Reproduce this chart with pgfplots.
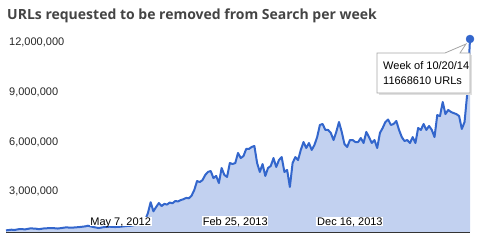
\documentclass[border=0pt]{standalone}
\usepackage{fontspec}
\setmainfont{Liberation Sans}
\newfontfamily\titlefont{Open Sans}
\usepackage{pgfplots}
\pgfplotsset{compat=1.18}
\usepackage{pgfplotstable}
\definecolor{gline}{HTML}{3366CC}
\definecolor{garea}{HTML}{C2D1F0}
\definecolor{gtitle}{HTML}{444444}
\pgfplotstableread{
w v
0 100000
2 140000
3 120000
5 180000
7 160000
9 220000
11 200000
12 170000
14 220000
17 240000
19 210000
22 280000
24 260000
27 300000
29 340000
30 380000
32 300000
34 240000
36 300000
38 320000
40 300000
42 320000
44 360000
46 380000
47 420000
48 500000
50 620000
51 730000
52 1150000
53 1800000
54 1250000
55 1510000
56 1750000
57 1570000
58 1700000
59 1660000
60 1780000
61 1740000
62 1870000
63 1850000
64 1930000
65 1980000
66 2060000
67 2040000
68 2200000
69 2550000
70 3080000
71 3020000
72 3140000
73 3450000
74 3630000
75 3690000
76 3260000
77 3390000
78 2960000
79 3870000
80 3450000
81 3330000
82 4170000
83 4110000
84 4170000
85 4780000
86 4470000
87 4590000
88 5020000
89 5020000
90 5140000
91 5200000
92 4170000
93 3630000
94 4110000
95 3390000
96 3870000
97 3990000
98 4470000
99 3930000
100 4350000
101 4530000
102 3630000
103 3750000
104 2720000
105 4170000
106 4530000
107 4350000
108 4960000
109 5440000
110 5080000
111 5380000
112 4960000
113 5260000
114 5740000
115 6470000
116 6530000
117 6170000
118 6170000
119 5990000
120 5560000
121 6050000
122 6650000
123 6050000
124 5320000
125 5140000
126 5560000
127 5560000
128 5440000
129 5440000
130 5680000
131 5380000
132 6050000
133 5740000
134 5380000
135 5560000
136 5080000
137 5990000
138 6290000
139 6650000
140 6800000
141 6470000
142 6530000
143 6710000
144 6170000
145 5740000
146 5500000
147 5560000
148 5380000
149 5740000
150 5380000
151 6290000
152 6170000
153 6530000
154 6170000
155 6410000
156 6170000
157 5740000
158 7070000
159 7010000
160 7860000
161 7130000
162 7380000
163 7260000
164 7190000
165 7130000
166 7010000
167 6230000
168 6650000
169 8400000
170 11668610
}\urldata
\begin{document}
\begin{tikzpicture}[x=1bp,y=1bp]
\useasboundingbox (0,0) rectangle (480,247);
\node[anchor=base west, inner sep=0, text=gtitle, font=\titlefont\bfseries\fontsize{14bp}{17bp}\selectfont] at (7,228) {URLs requested to be removed from Search per week};
\begin{axis}[
  at={(6bp,15bp)}, anchor=south west, scale only axis,
  width=464bp, height=201.8bp,
  xmin=0, xmax=170, ymin=0, ymax=12200000,
  clip=false, axis on top,
  axis x line*=bottom, axis y line*=left,
  y axis line style={draw=none},
  x axis line style={draw=black!80, line width=1bp, -},
  major tick length=0,
  xtick={42,84,126},
  xticklabels={{May 7, 2012},{Feb 25, 2013},{Dec 16, 2013}},
  xticklabel style={anchor=base, yshift=7bp, inner sep=0.7bp, text depth=0pt, fill=white, font=\fontsize{11bp}{13bp}\selectfont, text=black},
  ytick={3000000,6000000,9000000,12000000},
  scaled y ticks=false,
  yticklabel style={anchor=north west, xshift=3bp, yshift=-4.5bp, inner sep=0, font=\fontsize{11bp}{13bp}\selectfont, text=black!85},
  /pgf/number format/fixed,
  /pgf/number format/1000 sep={,},
  /pgf/number format/assume math mode=true,
]
\addplot[fill=garea, draw=none] table[x=w, y=v] {\urldata} \closedcycle;
\addplot[gline, line width=2bp, line join=round] table[x=w, y=v] {\urldata};
\addplot[only marks, mark=*, mark size=4bp, gline] coordinates {(170,11668610)};
\end{axis}
% tooltip
\fill[black!12] (379,152) rectangle (472,192);
\draw[black!35, fill=white, line width=0.8bp] (377,154) -- (470,154) -- (470,194) -- (460,194) -- (466,203) -- (445,194) -- (377,194) -- cycle;
\node[anchor=base west, inner sep=0, font=\fontsize{11bp}{13bp}\selectfont] at (383,177.7) {Week of 10/20/14};
\node[anchor=base west, inner sep=0, font=\fontsize{11bp}{13bp}\selectfont] at (383,163) {11668610 URLs};
\end{tikzpicture}
\end{document}
